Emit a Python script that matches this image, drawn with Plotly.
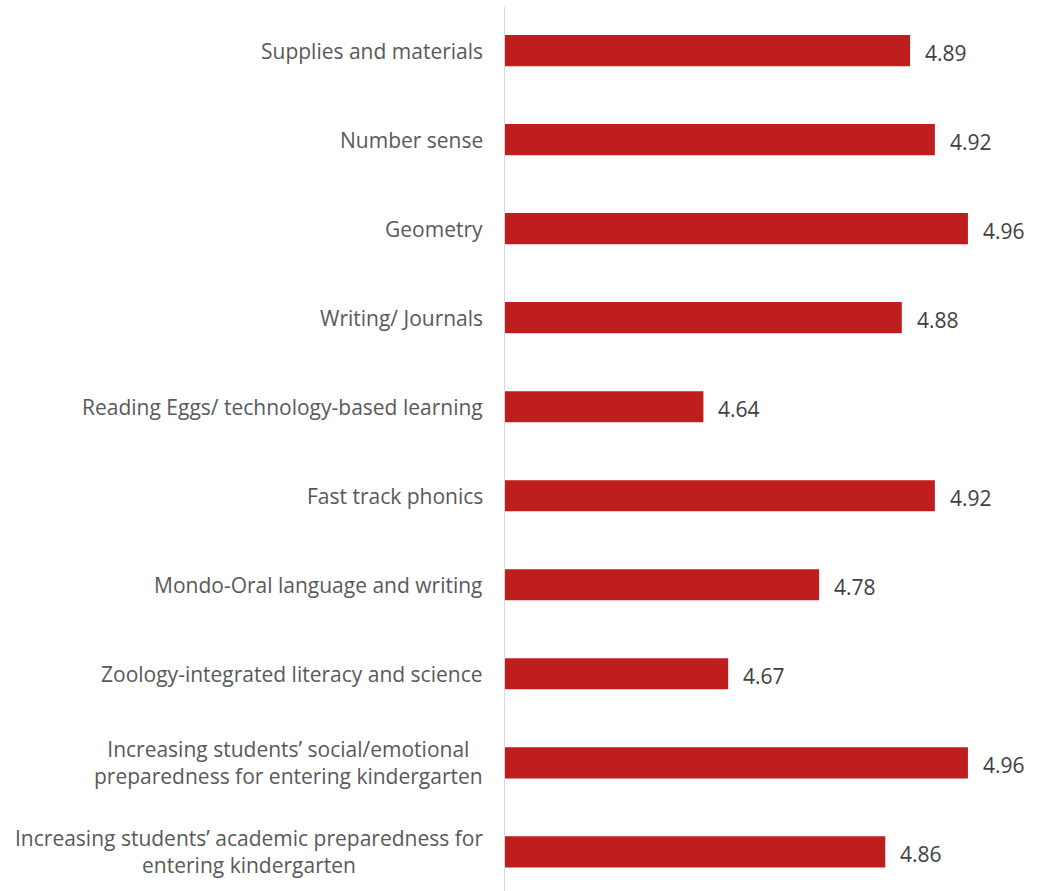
import plotly.graph_objects as go

categories = [
    "Supplies and materials",
    "Number sense",
    "Geometry",
    "Writing/ Journals",
    "Reading Eggs/ technology-based learning",
    "Fast track phonics",
    "Mondo-Oral language and writing",
    "Zoology-integrated literacy and science",
    "Increasing students\u2019 social/emotional<br>preparedness for entering kindergarten",
    "Increasing students\u2019 academic preparedness for<br>entering kindergarten",
]
values = [4.89, 4.92, 4.96, 4.88, 4.64, 4.92, 4.78, 4.67, 4.96, 4.86]
value_labels = ["4.89", "4.92", "4.96", "4.88", "4.64", "4.92", "4.78", "4.67", "4.96", "4.86"]
axis_min = 4.4
axis_max = 5.0

FONT = "Open Sans"
BAR_COLOR = "#BE1E1E"

fig = go.Figure()
fig.add_trace(go.Bar(
    x=[v - axis_min for v in values],
    y=categories,
    orientation="h",
    base=axis_min,
    marker=dict(color=BAR_COLOR, line=dict(width=0)),
    width=0.35,
    hoverinfo="skip",
))

annotations = []
for cat, v, lab in zip(categories, values, value_labels):
    annotations.append(dict(
        x=v, y=cat, xref="x", yref="y", text=lab, showarrow=False,
        xanchor="left", yanchor="middle", xshift=13, yshift=-2,
        font=dict(family=FONT, size=21, color="#404040"),
    ))
    annotations.append(dict(
        x=0, y=cat, xref="paper", yref="y", text=cat, showarrow=False,
        xanchor="right", yanchor="middle", xshift=-20, align="center",
        font=dict(family=FONT, size=21, color="#595959"),
    ))

fig.update_layout(
    width=1037, height=891,
    margin=dict(l=505, r=36, t=7, b=0),
    paper_bgcolor="white", plot_bgcolor="white",
    showlegend=False,
    annotations=annotations,
    xaxis=dict(range=[axis_min, axis_max], showgrid=False, zeroline=False,
               showticklabels=False, showline=False, ticks=""),
    yaxis=dict(categoryorder="array", categoryarray=categories,
               range=[9.44, -0.49], showgrid=False, zeroline=False,
               showticklabels=False, showline=True, linecolor="#d9d9d9",
               linewidth=1, ticks=""),
)

fig.write_html("out.html")
